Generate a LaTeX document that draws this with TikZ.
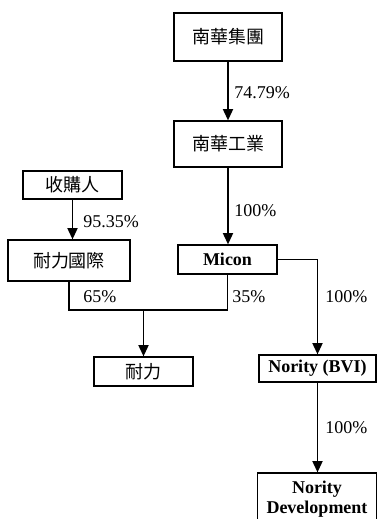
\documentclass[tikz,border=0pt]{standalone}
\usepackage{fontspec}
\setmainfont{Liberation Serif}
\newfontfamily\cjk{Noto Sans CJK TC}
\usetikzlibrary{arrows.meta}

\tikzset{
    box/.style={rectangle, draw=black, line width=0.9pt, inner sep=0pt, align=center,
        font=\fontsize{13.5}{14.5}\selectfont},
    cjkbox/.style={box, font=\fontsize{13.5}{14.5}\selectfont\cjk},
    bfbox/.style={box, font=\fontsize{13.5}{14.5}\selectfont\bfseries},
    link/.style={line width=1.4pt},
    arr/.style={link, -{Triangle[length=8.5pt,width=7.5pt]}},
    pct/.style={anchor=west, inner sep=0pt, font=\fontsize{13.5}{14.5}\selectfont},
}

\begin{document}
\begin{tikzpicture}[x=0.75pt, y=-0.75pt]
    \useasboundingbox (0,0) rectangle (377,519);
    % boxes
    \node (ngrp) [cjkbox, minimum width=81pt, minimum height=36pt] at (228,37) {南華集團};
    \node (nind) [cjkbox, minimum width=81pt, minimum height=34.5pt] at (228,144) {南華工業};
    \node (micon) [bfbox, minimum width=74.25pt, minimum height=21.75pt] at (227.5,259.5) {Micon};
    \node (buyer) [cjkbox, minimum width=74.25pt, minimum height=21pt] at (72.5,185) {收購人};
    \node (nlgj) [cjkbox, minimum width=91.5pt, minimum height=30.75pt] at (69,260.5) {耐力國際};
    \node (nl) [cjkbox, minimum width=74.25pt, minimum height=21.75pt] at (143.5,371.5) {耐力};
    \node (bvi) [bfbox, minimum width=87.75pt, minimum height=20.25pt] at (317.5,368.5) {Nority (BVI)};
    \node (dev) [bfbox, minimum width=89.25pt, minimum height=39pt] at (317,499) {Nority\\Development};

    % connectors
    \draw[arr] (ngrp.south) -- (nind.north);
    \draw[arr] (nind.south) -- (nind.south |- micon.north);
    \draw[arr] (buyer.south) -- (buyer.south |- nlgj.north);
    \coordinate (split) at (143.5,310);
    \draw[link] (nlgj.south) |- (split) -| (micon.south);
    \draw[arr] (split) -- (nl.north);
    \draw[arr] (micon.east) -| (bvi.north);
    \draw[arr] (bvi.south) -- (bvi.south |- dev.north);

    % percentages
    \node (p1) [pct] at (234,93) {74.79\%};
    \node (p2) [pct] at (234,211) {100\%};
    \node (p3) [pct] at (83,222) {95.35\%};
    \node (p4) [pct] at (83,297) {65\%};
    \node (p5) [pct] at (232,297) {35\%};
    \node (p6) [pct] at (325,297) {100\%};
    \node (p7) [pct] at (325,428) {100\%};
\end{tikzpicture}
\end{document}
